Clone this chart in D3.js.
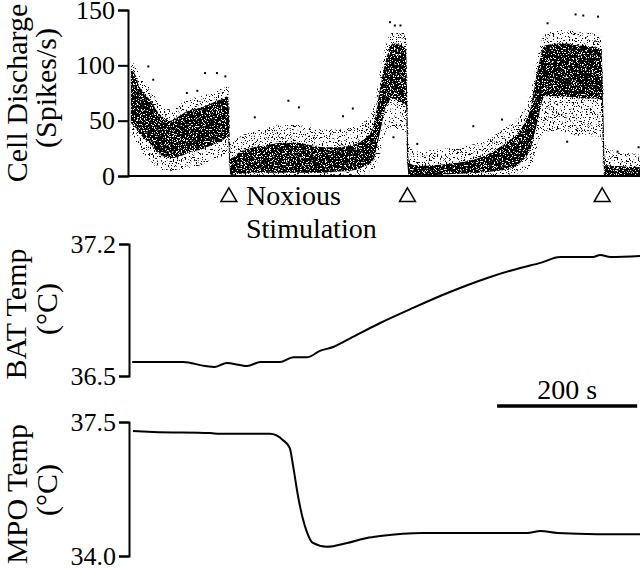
<!DOCTYPE html>
<html lang="en">
  <head>
    <meta charset="UTF-8" />
    <title>Cell discharge, BAT and MPO temperature</title>
    <script src="https://d3js.org/d3.v7.min.js"></script>
    <style>
      body { margin: 0; background: #fff; }
      svg { display: block; }
      text { font-family: "Liberation Serif", "Tinos", "Times New Roman", "DejaVu Serif", serif; fill: #000; }
      .axis path, .axis line { stroke: #000; stroke-width: 2; }
      .axis text { font-size: 26px; font-family: "Liberation Serif", "Tinos", "Times New Roman", "DejaVu Serif", serif; }
    </style>
  </head>
  <body>
    <svg id="chart" width="640" height="568"></svg>

    <script>
      // time in seconds; spike-rate envelope of the dot cloud (spikes/s)
      const binTime   = [4, 10, 17, 30, 45, 60, 75, 90, 105, 120, 135, 143, 145, 146, 160, 180, 200, 220, 240, 260, 280, 300, 320, 335, 350, 360, 368, 378, 390, 397, 399, 401, 415, 440, 470, 500, 520, 540, 560, 575, 585, 595, 620, 645, 670, 676, 679, 681, 700, 731];
      const outerHigh = [104, 100, 90, 80, 66, 60, 65, 70, 72, 76, 80, 82, 60, 30, 36, 40, 44, 46, 46, 44, 42, 42, 44, 48, 60, 95, 118, 130, 130, 128, 90, 30, 22, 24, 26, 30, 36, 44, 56, 75, 108, 128, 132, 130, 128, 126, 80, 28, 22, 20];
      const coreHigh  = [96, 92, 80, 70, 56, 50, 55, 60, 62, 66, 70, 72, 40, 16, 22, 26, 28, 30, 30, 28, 26, 26, 28, 32, 44, 80, 104, 120, 118, 114, 60, 12, 9, 10, 12, 16, 22, 30, 42, 62, 96, 118, 120, 118, 116, 114, 50, 10, 9, 8];
      const coreLow   = [48, 44, 38, 30, 20, 16, 18, 22, 24, 28, 32, 36, 10, 1, 2, 3, 3, 3, 3, 3, 3, 4, 5, 8, 14, 40, 62, 70, 66, 64, 10, 1, 1, 1, 2, 3, 4, 6, 12, 25, 50, 72, 72, 70, 70, 68, 10, 1, 1, 1];
      const outerLow  = [36, 32, 24, 15, 6, 4, 6, 8, 10, 14, 18, 20, 2, 0, 0, 0, 0, 0, 0, 0, 0, 0, 0, 2, 5, 20, 40, 45, 40, 40, 2, 0, 0, 0, 0, 0, 0, 1, 3, 8, 28, 40, 40, 36, 36, 34, 2, 0, 0, 0];

      // isolated spikes outside the dense cloud: [time, rate]
      const strayTime = [29, 36, 84, 99, 110, 127, 139, 181, 229, 244, 307, 321, 374, 379, 381, 389, 413, 493, 534, 599, 627, 639, 650, 671, 699, 729];
      const strayRate = [99, 87, 75, 77, 93, 93, 90, 53, 68, 62, 54, 61, 139, 35, 136, 136, 29, 45, 51, 138, 31, 146, 145, 144, 22, 26];

      // BAT temperature (°C)
      const batTime = [6, 79, 110, 124, 141, 160, 170, 189, 217, 236, 256, 274, 293, 321, 360, 407, 456, 513, 560, 589, 617, 664, 674, 689, 731];
      const batTemp = [36.574, 36.574, 36.553, 36.548, 36.569, 36.558, 36.553, 36.574, 36.574, 36.6, 36.6, 36.633, 36.654, 36.707, 36.781, 36.861, 36.94, 37.02, 37.073, 37.1, 37.131, 37.131, 37.142, 37.131, 37.136];

      // MPO temperature (°C)
      const mpoTime = [7, 36, 117, 131, 203, 221, 231, 236, 243, 249, 256, 264, 284, 313, 341, 360, 421, 570, 589, 613, 670, 731];
      const mpoTemp = [37.265, 37.24, 37.21, 37.19, 37.19, 37.03, 36.82, 36.32, 35.54, 35.02, 34.6, 34.34, 34.24, 34.34, 34.47, 34.52, 34.6, 34.6, 34.65, 34.6, 34.57, 34.57];

      const stimTimes = [144, 399, 677];
      const rateTicks = [0, 50, 100, 150];
      const batTicks = [36.5, 37.2];
      const mpoTicks = [34.0, 37.5];
      const scaleBar = [527, 727];

      const svg = d3.select("#chart");

      // speckle filters: noise mask so the cloud reads as scattered dots
      const defs = svg.append("defs");
      function speckle(id, seed, cut) {
        const f = defs.append("filter").attr("id", id)
          .attr("filterUnits", "userSpaceOnUse")
          .attr("x", 0).attr("y", 0).attr("width", 640).attr("height", 200);
        f.append("feTurbulence").attr("type", "fractalNoise")
          .attr("baseFrequency", 0.75).attr("numOctaves", 2).attr("seed", seed).attr("result", "noise");
        f.append("feColorMatrix").attr("in", "noise").attr("type", "matrix")
          .attr("values", `0 0 0 0 0  0 0 0 0 0  0 0 0 0 0  18 0 0 0 ${-18 * cut}`)
          .attr("result", "mask");
        f.append("feComposite").attr("in", "SourceGraphic").attr("in2", "mask").attr("operator", "in");
      }
      speckle("sparse", 3, 0.6);
      speckle("dense", 7, 0.38);

      const x = d3.scaleLinear().domain([0, 731]).range([128, 640]);
      const yRate = d3.scaleLinear().domain([0, 150]).range([176, 10]);
      const yBat = d3.scaleLinear().domain([36.5, 37.2]).range([376, 244]);
      const yMpo = d3.scaleLinear().domain([34.0, 37.5]).range([556, 422]);

      // dot cloud
      const band = (lo, hi) => d3.area()
        .x((d, i) => x(binTime[i]))
        .y0((d, i) => yRate(lo[i]))
        .y1((d, i) => yRate(hi[i]))
        .curve(d3.curveMonotoneX)(binTime);

      svg.append("path").attr("d", band(outerLow, outerHigh)).attr("fill", "#000").attr("filter", "url(#sparse)");
      svg.append("path").attr("d", band(coreLow, coreHigh)).attr("fill", "#000").attr("filter", "url(#dense)");

      svg.selectAll(".stray").data(strayTime).enter().append("rect")
        .attr("class", "stray")
        .attr("x", (d) => x(d) - 1)
        .attr("y", (d, i) => yRate(strayRate[i]) - 1)
        .attr("width", 2).attr("height", 2);

      // axes
      svg.append("g").attr("class", "axis")
        .attr("transform", "translate(128,0)")
        .call(d3.axisLeft(yRate).tickValues(rateTicks).tickSize(10).tickPadding(3));
      svg.append("line")
        .attr("x1", 128).attr("x2", 640).attr("y1", 176).attr("y2", 176)
        .attr("stroke", "#000").attr("stroke-width", 2);

      svg.append("g").attr("class", "axis")
        .attr("transform", "translate(129,0)")
        .call(d3.axisLeft(yBat).tickValues(batTicks).tickFormat(d3.format(".1f")).tickSize(10).tickPadding(3));
      svg.append("g").attr("class", "axis")
        .attr("transform", "translate(129,0)")
        .call(d3.axisLeft(yMpo).tickValues(mpoTicks).tickFormat(d3.format(".1f")).tickSize(10).tickPadding(3));
      svg.selectAll(".axis .domain").attr("fill", "none");

      // temperature traces
      svg.append("path")
        .attr("d", d3.line().x((d) => x(d)).y((d, i) => yBat(batTemp[i])).curve(d3.curveMonotoneX)(batTime))
        .attr("fill", "none").attr("stroke", "#000").attr("stroke-width", 2);
      svg.append("path")
        .attr("d", d3.line().x((d) => x(d)).y((d, i) => yMpo(mpoTemp[i])).curve(d3.curveMonotoneX)(mpoTime))
        .attr("fill", "none").attr("stroke", "#000").attr("stroke-width", 2);

      // stimulation markers
      svg.selectAll(".stim").data(stimTimes).enter().append("path")
        .attr("class", "stim")
        .attr("d", d3.symbol(d3.symbolTriangle, 110))
        .attr("transform", (d) => `translate(${x(d)},197)`)
        .attr("fill", "#fff").attr("stroke", "#000").attr("stroke-width", 1.5);
      svg.append("text").attr("x", 246).attr("y", 205).attr("font-size", 28).text("Noxious");
      svg.append("text").attr("x", 246).attr("y", 238).attr("font-size", 28).text("Stimulation");

      // scale bar
      svg.append("line")
        .attr("x1", x(scaleBar[0])).attr("x2", x(scaleBar[1])).attr("y1", 406).attr("y2", 406)
        .attr("stroke", "#000").attr("stroke-width", 3.5);
      svg.append("text")
        .attr("x", (x(scaleBar[0]) + x(scaleBar[1])) / 2).attr("y", 399)
        .attr("text-anchor", "middle").attr("font-size", 28).text("200 s");

      // axis titles
      const title = (tx, ty, label) => svg.append("text")
        .attr("transform", `translate(${tx},${ty}) rotate(-90)`)
        .attr("text-anchor", "middle").attr("font-size", 30).text(label);
      title(27, 93, "Cell Discharge");
      title(56, 88, "(Spikes/s)");
      title(26, 314, "BAT Temp");
      title(57, 309, "(°C)");
      title(27, 494, "MPO Temp");
      title(57, 490, "(°C)");
    </script>
  </body>
</html>
